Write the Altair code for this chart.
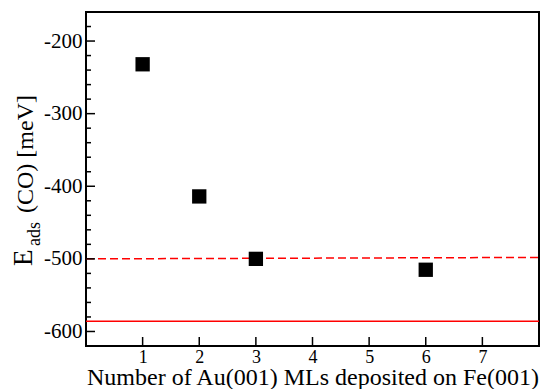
import altair as alt
import pandas as pd

# data
ml_counts = [1, 2, 3, 6]
e_ads = [-232, -414, -500, -515]
ref_dashed_x = [0, 8]
ref_dashed_y = [-500, -498]
ref_solid_x = [0, 8]
ref_solid_y = [-586, -586]
x_ticks = [1, 2, 3, 4, 5, 6, 7]
y_major = [-600, -500, -400, -300, -200]
y_minor = [-620, -580, -560, -540, -520, -480, -460, -440, -420, -380, -360, -340, -320,
           -280, -260, -240, -220, -180, -160]

W, H = 453, 334
FONT = "Liberation Serif"

xs = alt.Scale(domain=[0, 8], nice=False, zero=False)
ys = alt.Scale(domain=[-620, -160], nice=False, zero=False)

pts = pd.DataFrame({"x": ml_counts, "y": e_ads})
dashed = pd.DataFrame({"x": ref_dashed_x, "y": ref_dashed_y})
solid = pd.DataFrame({"x": ref_solid_x, "y": ref_solid_y})

xaxis = alt.Axis(values=x_ticks, ticks=False, domain=False, grid=False,
                 labelExpr="datum.value + ''",
                 labelFont=FONT, labelFontSize=18, labelColor="black", labelPadding=2,
                 labelAngle=0,
                 title="Number of Au(001) MLs deposited on Fe(001)",
                 titleFont=FONT, titleFontSize=24, titleFontWeight="normal",
                 titleColor="black", titleBaseline="alphabetic", titleY=38)
yaxis = alt.Axis(values=y_major, ticks=False, domain=False, grid=False,
                 labelExpr="datum.value + ''",
                 labelFont=FONT, labelFontSize=21, labelColor="black", labelPadding=4,
                 title=None)


def X(field="x"):
    return alt.X(f"{field}:Q", scale=xs, axis=xaxis)


def Y(field="y"):
    return alt.Y(f"{field}:Q", scale=ys, axis=yaxis)


base_pts = alt.Chart(pts).mark_square(size=205, color="black", opacity=1).encode(
    x=X(), y=Y())

dash_line = alt.Chart(dashed).mark_line(color="#ff0000", strokeWidth=1.5,
                                        strokeDash=[8, 4]).encode(x=X(), y=Y())
solid_line = alt.Chart(solid).mark_line(color="#ff0000", strokeWidth=1.5).encode(
    x=X(), y=Y())

ymaj = alt.Chart(pd.DataFrame({"y": y_major})).mark_rule(color="black", strokeWidth=1.5).encode(
    y=Y(), x=alt.value(0), x2=alt.value(9))
ymin = alt.Chart(pd.DataFrame({"y": y_minor})).mark_rule(color="black", strokeWidth=1.5).encode(
    y=Y(), x=alt.value(0), x2=alt.value(5))
xmaj = alt.Chart(pd.DataFrame({"x": x_ticks})).mark_rule(color="black", strokeWidth=1.5).encode(
    x=X(), y=alt.value(H), y2=alt.value(H - 9))

title_E = alt.Chart(pd.DataFrame({"t": ["E"]})).mark_text(
    font=FONT, fontSize=27, angle=270, align="left", baseline="alphabetic", color="black"
).encode(text="t:N", x=alt.value(-54), y=alt.value(254))
title_sub = alt.Chart(pd.DataFrame({"t": ["ads"]})).mark_text(
    font=FONT, fontSize=18, angle=270, align="left", baseline="alphabetic", color="black"
).encode(text="t:N", x=alt.value(-46), y=alt.value(234))
title_rest = alt.Chart(pd.DataFrame({"t": ["(CO) [meV]"]})).mark_text(
    font=FONT, fontSize=24, angle=270, align="left", baseline="alphabetic", color="black"
).encode(text="t:N", x=alt.value(-53), y=alt.value(201))

chart = alt.layer(
    solid_line, dash_line, ymaj, ymin, xmaj, base_pts, title_E, title_sub, title_rest
).properties(
    width=W, height=H,
    autosize=alt.AutoSizeParams(type="none"),
    padding={"left": 86, "top": 12, "right": 2, "bottom": 43},
    background="white",
).configure_view(stroke="black", strokeWidth=2).configure_axis(
    labelFont=FONT, titleFont=FONT
).configure_text(font=FONT)

chart.save("out.html", embed_options={"renderer": "svg", "actions": False})
